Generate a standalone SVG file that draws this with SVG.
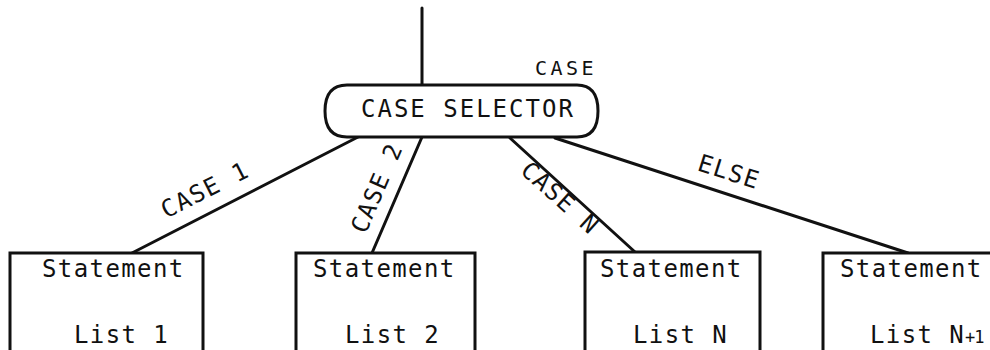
<svg xmlns="http://www.w3.org/2000/svg" width="990" height="350" viewBox="0 0 990 350">
<style>
.t{font-family:"DejaVu Sans Mono","Liberation Mono",monospace;font-size:24px;fill:#111;letter-spacing:1.4px;}
.box{fill:#fff;stroke:#111;stroke-width:3;}
.ln{stroke:#111;stroke-width:3;fill:none;stroke-linecap:round;}
</style>
<rect width="990" height="350" fill="#fff"/>
<g id="connectors">
<line class="ln" x1="422" y1="8" x2="422" y2="86"/>
<line class="ln" x1="358" y1="137" x2="132" y2="253"/>
<line class="ln" x1="422" y1="137" x2="372" y2="253"/>
<line class="ln" x1="510" y1="138" x2="635" y2="252"/>
<line class="ln" x1="555" y1="138" x2="908" y2="253"/>
<text class="t" transform="translate(205,190) rotate(-27)" x="0" y="8" text-anchor="middle">CASE 1</text>
<text class="t" transform="translate(377,188) rotate(-66.5)" x="0" y="8" text-anchor="middle">CASE 2</text>
<text class="t" transform="translate(560,198) rotate(42)" x="0" y="8" text-anchor="middle">CASE N</text>
<text class="t" transform="translate(729,172) rotate(17.5)" x="0" y="8" text-anchor="middle">ELSE</text>
<text class="t" x="535" y="75" style="font-size:20px;letter-spacing:3.5px">CASE</text>
</g>
<g id="selector">
<path class="box" d="M347,85 H577 Q598,85 598,111 Q598,137 577,137 H347 Q325,137 325,111 Q325,85 347,85 Z"/>
<text class="t" x="361" y="117" style="letter-spacing:2px">CASE SELECTOR</text>
</g>
<g id="list1">
<rect class="box" x="10" y="253" width="193" height="110"/>
<text class="t" x="42" y="277">Statement</text>
<text class="t" x="74" y="343">List 1</text>
</g>
<g id="list2">
<rect class="box" x="296" y="253" width="179" height="110"/>
<text class="t" x="313" y="277">Statement</text>
<text class="t" x="345" y="343">List 2</text>
</g>
<g id="listN">
<rect class="box" x="585" y="252" width="175" height="110"/>
<text class="t" x="600" y="277">Statement</text>
<text class="t" x="633" y="343">List N</text>
</g>
<g id="listN1">
<rect class="box" x="823" y="253" width="200" height="110"/>
<text class="t" x="840" y="277">Statement</text>
<text class="t" x="870" y="343">List N<tspan style="font-size:17px;letter-spacing:-1px">+1</tspan></text>
</g>
</svg>
